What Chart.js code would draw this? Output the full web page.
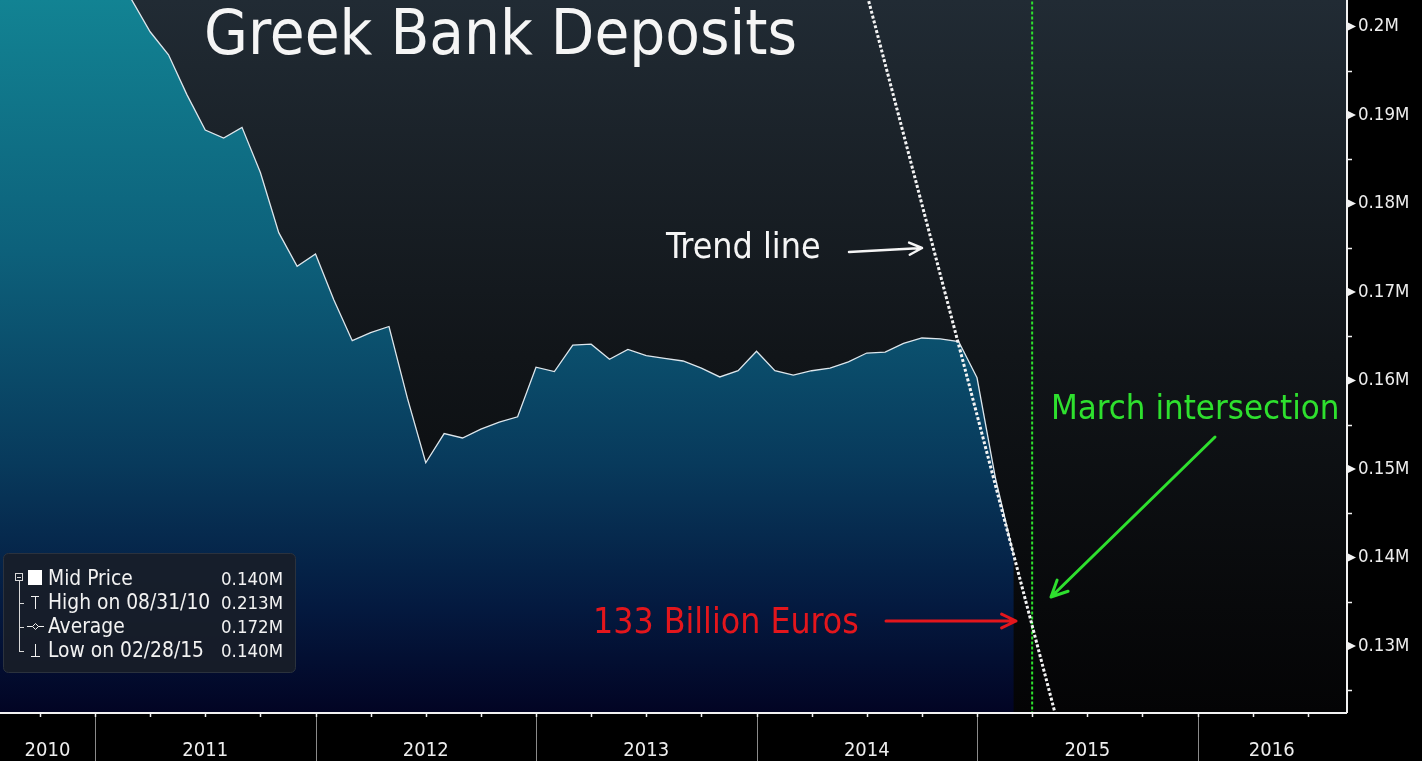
<!DOCTYPE html>
<html>
<head>
<meta charset="utf-8">
<title>Greek Bank Deposits</title>
<script src="https://cdn.jsdelivr.net/npm/chart.js@4.4.1/dist/chart.umd.min.js"></script>
<style>
  html, body { margin: 0; padding: 0; background: #000; overflow: hidden; }
  #wrap { width: 1422px; height: 761px; position: relative; }
</style>
</head>
<body>
<div id="wrap"><canvas id="depositsChart"></canvas></div>
<script>
const FONT = "'DejaVu Sans Condensed', 'DejaVu Sans', sans-serif";

// month-end observations, millions of euros shown as "M"
const months = [
  '2010-06', '2010-07', '2010-08', '2010-09', '2010-10', '2010-11', '2010-12',
  '2011-01', '2011-02', '2011-03', '2011-04', '2011-05', '2011-06',
  '2011-07', '2011-08', '2011-09', '2011-10', '2011-11', '2011-12',
  '2012-01', '2012-02', '2012-03', '2012-04', '2012-05', '2012-06',
  '2012-07', '2012-08', '2012-09', '2012-10', '2012-11', '2012-12',
  '2013-01', '2013-02', '2013-03', '2013-04', '2013-05', '2013-06',
  '2013-07', '2013-08', '2013-09', '2013-10', '2013-11', '2013-12',
  '2014-01', '2014-02', '2014-03', '2014-04', '2014-05', '2014-06',
  '2014-07', '2014-08', '2014-09', '2014-10', '2014-11', '2014-12',
  '2015-01', '2015-02'
];
const deposits = [
  0.2090, 0.2105, 0.2130, 0.2110, 0.2095, 0.2075, 0.2085,
  0.2055, 0.2030, 0.1994, 0.1968, 0.1923, 0.1883,
  0.1874, 0.1886, 0.1835, 0.1767, 0.1729, 0.1743,
  0.1691, 0.1645, 0.1654, 0.1661, 0.1580, 0.1507,
  0.1540, 0.1535, 0.1545, 0.1553, 0.1559, 0.1615,
  0.1610, 0.1640, 0.1641, 0.1624, 0.1635, 0.1628,
  0.1625, 0.1622, 0.1614, 0.1604, 0.1611, 0.1633,
  0.1611, 0.1606, 0.1611, 0.1614, 0.1621, 0.1631,
  0.1632, 0.1642, 0.1648, 0.1647, 0.1644, 0.1603,
  0.1490, 0.1402
];

const years = ['2010', '2011', '2012', '2013', '2014', '2015', '2016'];
const yTicks = [0.13, 0.14, 0.15, 0.16, 0.17, 0.18, 0.19, 0.20];

// trend line end points (x in months after Jan 2011)
const trendX = [41.9, 52.4];
const trendY = [0.2045, 0.1212];
const marchX = 51;

const legendLabels = ['Mid Price', 'High on 08/31/10', 'Average', 'Low on 02/28/15'];
const legendValues = ['0.140M', '0.213M', '0.172M', '0.140M'];

const X_MIN = -5.17, X_MAX = 68.08;
const Y_MIN = 0.12254, Y_MAX = 0.20299;

function monthPos(m) {
    const [yr, mo] = m.split('-').map(Number);
    return (yr - 2011) * 12 + mo;
}

const yearCenters = years.map(yr => {
    const start = Math.max(X_MIN, (Number(yr) - 2011) * 12);
    const end = Math.min(X_MAX, (Number(yr) - 2010) * 12);
    return (start + end) / 2;
});

function drawArrow(ctx, x1, y1, x2, y2, color, width, head) {
    const ang = Math.atan2(y2 - y1, x2 - x1);
    ctx.save();
    ctx.strokeStyle = color;
    ctx.lineWidth = width;
    ctx.lineCap = 'round';
    ctx.lineJoin = 'round';
    ctx.beginPath();
    ctx.moveTo(x1, y1);
    ctx.lineTo(x2, y2);
    ctx.moveTo(x2 - head * Math.cos(ang - 0.45), y2 - head * Math.sin(ang - 0.45));
    ctx.lineTo(x2, y2);
    ctx.lineTo(x2 - head * Math.cos(ang + 0.45), y2 - head * Math.sin(ang + 0.45));
    ctx.stroke();
    ctx.restore();
}

const chartBackground = {
    id: 'chartBackground',
    beforeDraw(chart) {
        const { ctx, chartArea: a } = chart;
        ctx.save();
        ctx.fillStyle = '#000';
        ctx.fillRect(0, 0, chart.width, chart.height);
        const g = ctx.createLinearGradient(0, a.top, 0, a.bottom);
        g.addColorStop(0, '#212b34');
        g.addColorStop(0.5, '#111519');
        g.addColorStop(1, '#040405');
        ctx.fillStyle = g;
        ctx.fillRect(a.left, a.top, a.right - a.left, a.bottom - a.top);
        ctx.restore();
    }
};

const axisDecor = {
    id: 'axisDecor',
    afterDraw(chart) {
        const { ctx, chartArea: a } = chart;
        const xs = chart.scales.x, ys = chart.scales.y;
        ctx.save();

        // year boundaries and quarter ticks
        for (let q = Math.ceil(X_MIN / 3) * 3; q <= X_MAX; q += 3) {
            const px = Math.round(xs.getPixelForValue(q)) + 0.5;
            if (q % 12 === 0) {
                ctx.strokeStyle = '#8a8a8a';
                ctx.lineWidth = 1;
                ctx.beginPath();
                ctx.moveTo(px, a.bottom);
                ctx.lineTo(px, chart.height);
                ctx.stroke();
            }
            ctx.strokeStyle = '#f0f0f0';
            ctx.lineWidth = 1.5;
            ctx.beginPath();
            ctx.moveTo(px, a.bottom);
            ctx.lineTo(px, a.bottom + 5);
            ctx.stroke();
        }

        // axis lines
        ctx.strokeStyle = '#f2f2f2';
        ctx.lineWidth = 2;
        ctx.beginPath();
        ctx.moveTo(a.left, a.bottom + 1);
        ctx.lineTo(a.right + 1, a.bottom + 1);
        ctx.moveTo(a.right + 1, a.top);
        ctx.lineTo(a.right + 1, a.bottom + 1);
        ctx.stroke();

        // y markers
        ctx.fillStyle = '#f2f2f2';
        yTicks.forEach(v => {
            const py = ys.getPixelForValue(v);
            ctx.beginPath();
            ctx.moveTo(a.right + 1, py - 4.5);
            ctx.lineTo(a.right + 10, py);
            ctx.lineTo(a.right + 1, py + 4.5);
            ctx.closePath();
            ctx.fill();
        });
        ctx.strokeStyle = '#f2f2f2';
        ctx.lineWidth = 1.5;
        yTicks.forEach(v => {
            const mv = v - 0.005;
            if (mv < Y_MIN) return;
            const py = Math.round(ys.getPixelForValue(mv)) + 0.5;
            ctx.beginPath();
            ctx.moveTo(a.right + 1, py);
            ctx.lineTo(a.right + 6, py);
            ctx.stroke();
        });
        ctx.restore();
    }
};

const annotations = {
    id: 'annotations',
    afterDatasetsDraw(chart) {
        const { ctx } = chart;
        ctx.save();
        ctx.textBaseline = 'alphabetic';
        ctx.textAlign = 'left';

        ctx.fillStyle = '#f5f5f5';
        ctx.font = `63px ${FONT}`;
        ctx.fillText('Greek Bank Deposits', 204, 54);

        ctx.fillStyle = '#f5f5f5';
        ctx.font = `35.5px ${FONT}`;
        ctx.fillText('Trend line', 666, 258);
        drawArrow(ctx, 849, 252, 922, 248, '#f5f5f5', 2.5, 14);

        ctx.font = `34.5px ${FONT}`;
        ctx.fillStyle = '#2ee02e';
        ctx.fillText('March intersection', 1051, 419);
        drawArrow(ctx, 1215, 437, 1051, 597, '#2ee02e', 3, 18);

        ctx.font = `35.3px ${FONT}`;
        ctx.fillStyle = '#e3161c';
        ctx.fillText('133 Billion Euros', 593, 633);
        drawArrow(ctx, 886, 621, 1016, 621, '#e3161c', 3, 16);

        // legend box
        const bx = 3, by = 553, bw = 292, bh = 119;
        ctx.fillStyle = 'rgba(24, 30, 40, 0.9)';
        ctx.strokeStyle = '#2b323d';
        ctx.lineWidth = 1;
        ctx.beginPath();
        ctx.roundRect(bx + 0.5, by + 0.5, bw, bh, 5);
        ctx.fill();
        ctx.stroke();

        const rows = [585, 609, 633, 657];
        ctx.fillStyle = '#f2f2f2';
        legendLabels.forEach((t, i) => {
            ctx.textAlign = 'left';
            ctx.font = `20.8px ${FONT}`;
            ctx.fillText(t, 48, rows[i]);
            ctx.textAlign = 'right';
            ctx.font = `18.5px ${FONT}`;
            ctx.fillText(legendValues[i], 283, rows[i]);
        });

        // tree and icons
        ctx.strokeStyle = '#d8d8d8';
        ctx.lineWidth = 1;
        ctx.strokeRect(15.5, 573.5, 7, 7);
        ctx.beginPath();
        ctx.moveTo(17, 577.5); ctx.lineTo(21, 577.5);
        ctx.moveTo(19.5, 581); ctx.lineTo(19.5, 652);
        [603, 627].forEach(py => { ctx.moveTo(19.5, py + 0.5); ctx.lineTo(24, py + 0.5); });
        ctx.moveTo(19.5, 651.5); ctx.lineTo(24, 651.5);
        ctx.stroke();
        ctx.fillStyle = '#ffffff';
        ctx.fillRect(28, 570, 14, 15);

        ctx.strokeStyle = '#f0f0f0';
        ctx.beginPath();
        ctx.moveTo(31, 596.5); ctx.lineTo(39, 596.5);
        ctx.moveTo(35.5, 596); ctx.lineTo(35.5, 609);
        ctx.moveTo(27, 626.5); ctx.lineTo(44, 626.5);
        ctx.moveTo(35.5, 644); ctx.lineTo(35.5, 656);
        ctx.moveTo(31, 656.5); ctx.lineTo(40, 656.5);
        ctx.stroke();
        ctx.beginPath();
        ctx.moveTo(35.5, 623.5); ctx.lineTo(38.5, 626.5); ctx.lineTo(35.5, 629.5); ctx.lineTo(32.5, 626.5);
        ctx.closePath();
        ctx.fillStyle = '#1a202a';
        ctx.fill();
        ctx.stroke();

        ctx.restore();
    }
};

const ctx = document.getElementById('depositsChart').getContext('2d');

new Chart(ctx, {
    type: 'line',
    data: {
        datasets: [
            {
                label: 'Greek Bank Deposits',
                data: months.map((m, i) => ({ x: monthPos(m), y: deposits[i] })),
                borderColor: '#dde6ec',
                borderWidth: 1.3,
                pointRadius: 0,
                tension: 0,
                fill: 'start',
                order: 3,
                backgroundColor: (c) => {
                    const area = c.chart.chartArea;
                    if (!area) return 'rgba(10,70,100,1)';
                    const g = c.chart.ctx.createLinearGradient(0, area.top, 0, area.bottom);
                    g.addColorStop(0, 'rgb(18, 131, 147)');
                    g.addColorStop(0.35, 'rgb(13, 97, 123)');
                    g.addColorStop(0.65, 'rgb(8, 58, 92)');
                    g.addColorStop(0.85, 'rgb(4, 26, 64)');
                    g.addColorStop(1, 'rgb(2, 4, 36)');
                    return g;
                }
            },
            {
                label: 'Trend line',
                data: trendX.map((x, i) => ({ x: x, y: trendY[i] })),
                borderColor: '#f4f4f4',
                borderWidth: 3,
                borderDash: [3, 2],
                pointRadius: 0,
                fill: false,
                order: 1
            },
            {
                label: 'March',
                data: [{ x: marchX, y: Y_MAX + 0.01 }, { x: marchX, y: Y_MIN - 0.01 }],
                borderColor: '#2ee02e',
                borderWidth: 2,
                borderDash: [3, 2],
                pointRadius: 0,
                fill: false,
                order: 2
            }
        ]
    },
    options: {
        responsive: true,
        maintainAspectRatio: false,
        animation: false,
        layout: { padding: 0 },
        plugins: {
            legend: { display: false },
            tooltip: { enabled: false }
        },
        scales: {
            x: {
                type: 'linear',
                min: X_MIN,
                max: X_MAX,
                grid: { display: false, drawTicks: false },
                border: { display: false },
                afterFit: s => {
                    s.height = 49;
                    s.paddingLeft = 0; s.paddingRight = 0;
                    s.paddingTop = 0; s.paddingBottom = 0;
                },
                afterBuildTicks: s => { s.ticks = yearCenters.map(v => ({ value: v })); },
                ticks: {
                    color: '#eeeeee',
                    font: { family: FONT, size: 20 },
                    padding: 27,
                    maxRotation: 0,
                    autoSkip: false,
                    callback: (v, i) => years[i]
                }
            },
            y: {
                position: 'right',
                min: Y_MIN,
                max: Y_MAX,
                grid: { display: false, drawTicks: false },
                border: { display: false },
                afterFit: s => {
                    s.width = 76;
                    s.paddingTop = 0; s.paddingBottom = 0;
                    s.paddingLeft = 0; s.paddingRight = 0;
                },
                afterBuildTicks: s => { s.ticks = yTicks.map(v => ({ value: v })); },
                ticks: {
                    color: '#eeeeee',
                    font: { family: FONT, size: 18.5 },
                    padding: 12,
                    callback: v => parseFloat(v.toFixed(2)) + 'M'
                }
            }
        }
    },
    plugins: [chartBackground, axisDecor, annotations]
});
</script>
</body>
</html>
